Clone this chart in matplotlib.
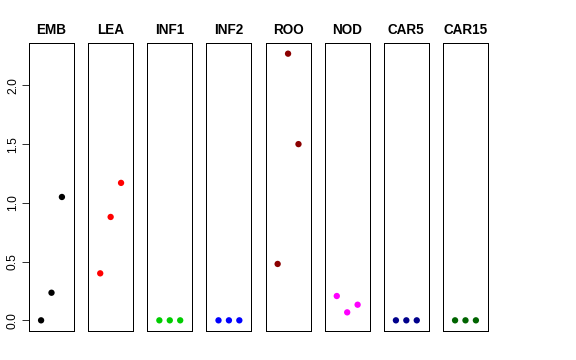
import numpy as np
import matplotlib.pyplot as plt

plt.rcParams['font.family'] = ['Liberation Sans', 'DejaVu Sans']

tissues = ["EMB", "LEA", "INF1", "INF2", "ROO", "NOD", "CAR5", "CAR15"]
colors = ["black", "red", "#00CD00", "blue", "#8B0000", "magenta", "#00008B", "#006400"]
EMB = [0.0, 0.235, 1.05]
LEA = [0.40, 0.88, 1.17]
INF1 = [0.0, 0.0, 0.0]
INF2 = [0.0, 0.0, 0.0]
ROO = [0.48, 2.27, 1.50]
NOD = [0.207, 0.068, 0.133]
CAR5 = [0.0, 0.0, 0.0]
CAR15 = [0.0, 0.0, 0.0]
values = [EMB, LEA, INF1, INF2, ROO, NOD, CAR5, CAR15]
yticks = [0.0, 0.5, 1.0, 1.5, 2.0]

W, H = 576, 360
fig = plt.figure(figsize=(8, 5), dpi=72)

ymax = max(max(v) for v in values)
pad = 0.04 * ymax
for i, (name, col, vals) in enumerate(zip(tissues, colors, values)):
    left = 29 + i * 59.14
    ax = fig.add_axes([left / W, 29 / H, 45 / W, 288 / H])
    x = np.arange(1, len(vals) + 1)
    ax.scatter(x, vals, s=40, c=col, edgecolors='none', zorder=3)
    ax.set_xlim(-0.16, 4.16)
    ax.set_ylim(-pad, ymax + pad)
    ax.set_xticks([])
    ax.set_title(name, fontsize=13.5, fontweight='bold', pad=9)
    for sp in ax.spines.values():
        sp.set_linewidth(1)
    if i == 0:
        ax.set_yticks(yticks)
        ax.set_yticklabels(["%.1f" % t for t in yticks], rotation=90, va='center', fontsize=12)
        ax.tick_params(axis='y', length=7, pad=3)
    else:
        ax.set_yticks([])

fig.savefig("out.png", dpi=72)
